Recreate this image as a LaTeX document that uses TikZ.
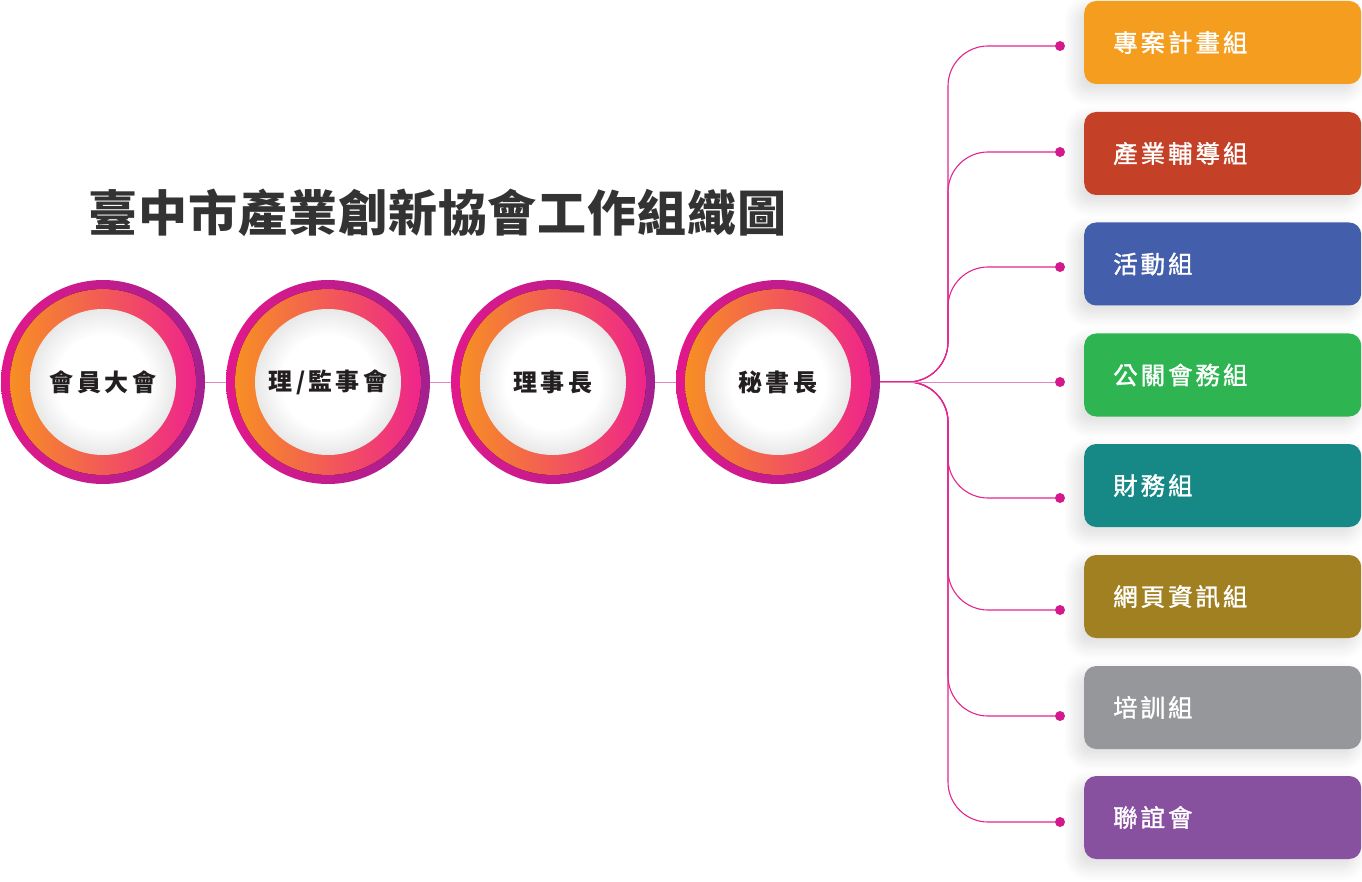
\documentclass[tikz,border=0pt]{standalone}
\usepackage{fontspec}
\setmainfont{Noto Sans CJK TC}
\newfontfamily\titlefont[LetterSpace=2]{Noto Sans CJK TC}
\newfontfamily\circfont[LetterSpace=14]{Noto Sans CJK TC}
\newfontfamily\boxfont[LetterSpace=12,FakeBold=1.3]{Noto Sans CJK TC}
\usetikzlibrary{positioning,shadows.blur}

\definecolor{ringmag}{HTML}{E2188C}
\definecolor{ringpur}{HTML}{A3208F}
\definecolor{ringorg}{HTML}{F7941E}
\definecolor{ringpink}{HTML}{EE2090}
\definecolor{txtdark}{HTML}{231F20}
\definecolor{titlegray}{HTML}{333333}
\definecolor{busmag}{HTML}{E2258F}
\definecolor{linkpink}{HTML}{E884C0}
\definecolor{dotmag}{HTML}{D4198C}
\definecolor{gorange}{HTML}{F49D1F}
\definecolor{gred}{HTML}{C44127}
\definecolor{gblue}{HTML}{435EAA}
\definecolor{ggreen}{HTML}{2EB552}
\definecolor{gteal}{HTML}{168986}
\definecolor{golive}{HTML}{A08021}
\definecolor{ggray}{HTML}{96979A}
\definecolor{gpurple}{HTML}{8751A0}

\pgfdeclareradialshading{whitedisc}{\pgfpoint{0bp}{0bp}}{color(0bp)=(white); color(16bp)=(white); color(25bp)=(black!9); color(50bp)=(black!9)}

\begin{document}
\begin{tikzpicture}[x=1pt,y=-1pt,
    ring/.style={circle, minimum size=204pt, inner sep=0pt, left color=ringmag, right color=ringpur,
      path picture={
        \fill[left color=ringorg, right color=ringpink] (path picture bounding box.center) circle (93pt);
        \shade[shading=whitedisc] (path picture bounding box.center) circle (73pt);},
      text=txtdark, font=\circfont\bfseries\fontsize{24}{28}\selectfont},
    grp/.style={rounded corners=12pt, minimum width=277pt, minimum height=83pt, text width=219pt,
      inner xsep=29pt, align=left, anchor=west, text=white,
      font=\boxfont\fontsize{24.5}{28}\selectfont,
      blur shadow={shadow xshift=-7pt, shadow yshift=-8pt, shadow blur radius=14pt, shadow opacity=14, shadow blur steps=12}},
    dot/.style={circle, fill=dotmag, minimum size=10pt, inner sep=0pt},
    link/.style={draw=linkpink, line width=1pt},
    bus/.style={draw=busmag, line width=1.1pt, rounded corners=40pt}]
  \useasboundingbox (0,0) rectangle (1362,882);

  % title
  \node[anchor=west, inner sep=0pt, text=titlegray, font=\titlefont\bfseries\fontsize{49}{56}\selectfont] (title) at (88,213) {臺中市產業創新協會工作組織圖};

  % main chain
  \node[ring] (assembly) at (103,382) {會員大會};
  \node[ring] (board) at (328,382) {理/監事會};
  \node[ring] (chair) at (553,382) {理事長};
  \node[ring] (sec) at (778,382) {秘書長};

  \draw[link] (assembly) edge (board) (board) edge (chair) (chair) edge (sec);

  % groups
  \node[grp, fill=gorange] (g1) at (1084,42.5) {專案計畫組};
  \node[grp, fill=gred] (g2) at (1084,153.5) {產業輔導組};
  \node[grp, fill=gblue] (g3) at (1084,264) {活動組};
  \node[grp, fill=ggreen] (g4) at (1084,375) {公關會務組};
  \node[grp, fill=gteal] (g5) at (1084,485.5) {財務組};
  \node[grp, fill=golive] (g6) at (1084,596.5) {網頁資訊組};
  \node[grp, fill=ggray] (g7) at (1084,707.5) {培訓組};
  \node[grp, fill=gpurple] (g8) at (1084,817.5) {聯誼會};

  % branch ends
  \node[dot] (d1) at (1060,46) {};
  \node[dot] (d2) at (1060,152) {};
  \node[dot] (d3) at (1060,267) {};
  \node[dot] (d4) at (1060,382) {};
  \node[dot] (d5) at (1060,498) {};
  \node[dot] (d6) at (1060,610) {};
  \node[dot] (d7) at (1060,716) {};
  \node[dot] (d8) at (1060,822) {};

  \coordinate (bx) at (948,382);
  \draw[bus] (sec.east) -| (bx |- d1) -- (d1);
  \draw[bus] (sec.east) -| (bx |- d2) -- (d2);
  \draw[bus] (sec.east) -| (bx |- d3) -- (d3);
  \draw[bus] (sec.east) -| (bx |- d5) -- (d5);
  \draw[bus] (sec.east) -| (bx |- d6) -- (d6);
  \draw[bus] (sec.east) -| (bx |- d7) -- (d7);
  \draw[bus] (sec.east) -| (bx |- d8) -- (d8);
  \draw[link] (sec.east) -- (d4);
\end{tikzpicture}
\end{document}
